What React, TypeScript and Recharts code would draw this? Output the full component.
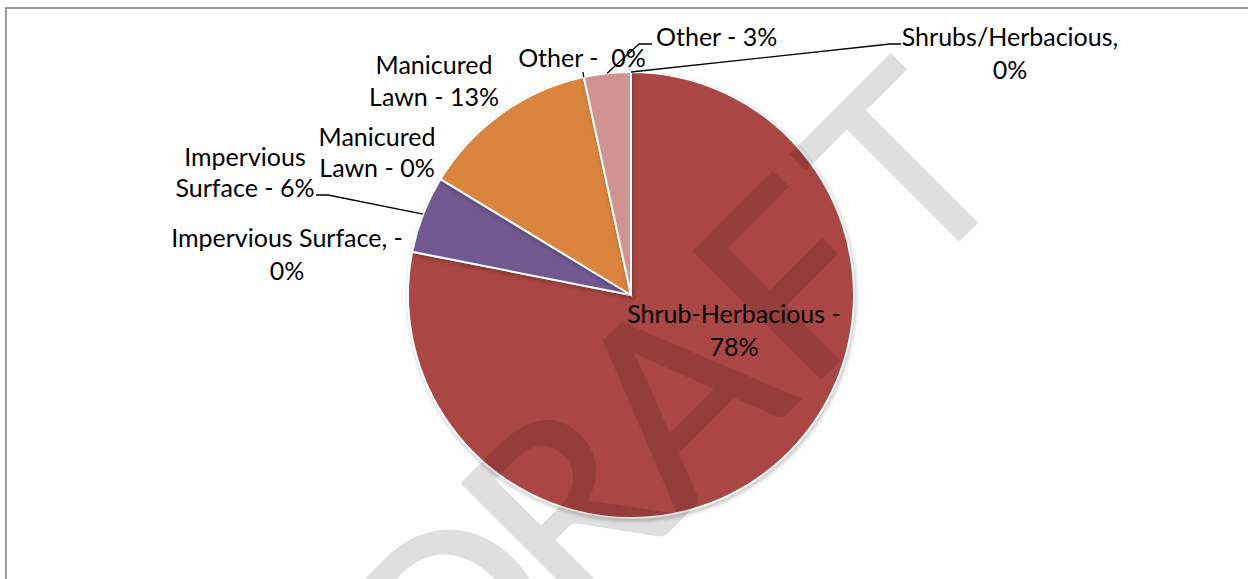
import { PieChart, Pie, Cell } from "recharts";

// land cover shares, in draw order (clockwise from 12 o'clock)
const categories = [
  "Shrub-Herbacious",
  "Impervious Surface",
  "Impervious Surface",
  "Manicured Lawn",
  "Manicured Lawn",
  "Other",
  "Other",
  "Shrubs/Herbacious",
];
const shares = [78.1, 0, 5.6, 0, 12.9, 0, 3.4, 0];
const sliceColors = [
  "#AA4643",
  "#71588F",
  "#71588F",
  "#DB843D",
  "#DB843D",
  "#D19392",
  "#D19392",
  "#4572A7",
];

const watermark = "DRAFT";

const total = shares.reduce((a, b) => a + b, 0);
const rows = categories.map((name, i) => ({ name, value: shares[i] }));

const RAD = Math.PI / 180;
const FONT = "Lato, 'Open Sans', sans-serif";

// label placement relative to the pie centre, like Excel's manual layout
type LabelSpec = {
  x: number;
  ys: number[];
  anchor: "start" | "middle" | "end";
  lines: (n: string, p: string) => string[];
  leader?: [number, number][];
};

const twoWords = (n: string, p: string) => {
  const [a, b] = n.split(" ");
  return [a, `${b} - ${p}`];
};

const labelSpecs: LabelSpec[] = [
  { x: 103, ys: [18, 51], anchor: "middle", lines: (n, p) => [`${n} -`, p] },
  { x: -344, ys: [-58, -25.5], anchor: "middle", lines: (n, p) => [`${n}, -`, p] },
  {
    x: -386,
    ys: [-139, -108],
    anchor: "middle",
    lines: twoWords,
    leader: [
      [-303, -100],
      [-315, -100],
    ],
  },
  { x: -254, ys: [-159, -128], anchor: "middle", lines: twoWords },
  { x: -197, ys: [-231, -199], anchor: "middle", lines: twoWords },
  { x: -49, ys: [-238.5], anchor: "middle", lines: (n, p) => [`${n} -  ${p}`], leader: [[-48, -223]] },
  {
    x: 25,
    ys: [-259.5],
    anchor: "start",
    lines: (n, p) => [`${n} - ${p}`],
    leader: [
      [8, -251],
      [21, -251],
    ],
  },
  {
    x: 379,
    ys: [-259.5, -226.5],
    anchor: "middle",
    lines: (n, p) => [`${n},`, p],
    leader: [
      [259, -251],
      [270, -251],
    ],
  },
];

// watermark letter centres along its baseline, relative to the "A"
const watermarkOffsets = [-315, -158, 0, 163, 322];

function renderLabel(props: any) {
  const { cx, cy, midAngle, outerRadius, index } = props;
  const spec = labelSpecs[index];
  if (!spec) return null;
  const pct = `${Math.round((shares[index] / total) * 100)}%`;
  const text = spec.lines(categories[index], pct);
  const ex = cx + outerRadius * Math.cos(-midAngle * RAD);
  const ey = cy + outerRadius * Math.sin(-midAngle * RAD);
  const pts = spec.leader
    ? [[ex, ey], ...spec.leader.map(([dx, dy]) => [cx + dx, cy + dy])]
    : null;
  return (
    <g key={`lbl-${index}`}>
      {pts && (
        <polyline
          points={pts.map((p) => p.join(",")).join(" ")}
          fill="none"
          stroke="#000"
          strokeWidth={1.3}
        />
      )}
      {text.map((t, i) => (
        <text
          key={i}
          x={cx + spec.x}
          y={cy + spec.ys[i]}
          textAnchor={spec.anchor}
          dominantBaseline="central"
          fontFamily={FONT}
          fontSize={25}
          fill="#000"
          style={{ whiteSpace: "pre" }}
        >
          {t}
        </text>
      ))}
    </g>
  );
}

export default function App() {
  return (
    <div
      style={{
        position: "fixed",
        left: 0,
        top: 0,
        width: 1248,
        height: 579,
        overflow: "hidden",
        background: "#fff",
      }}
    >
      <style>{`.recharts-pie-sector path { filter: drop-shadow(1px 2px 2px rgba(0,0,0,0.25)); }`}</style>
      <div
        style={{
          position: "absolute",
          left: 5,
          top: 7,
          width: 1300,
          height: 620,
          border: "2px solid #9a9a9a",
        }}
      />
      <div style={{ position: "absolute", left: 0, top: 0 }}>
        <PieChart width={1248} height={579} margin={{ top: 0, right: 0, bottom: 0, left: 0 }}>
          <Pie
            data={rows}
            dataKey="value"
            nameKey="name"
            cx={631}
            cy={295}
            outerRadius={223}
            startAngle={90}
            endAngle={-270}
            stroke="#fff"
            strokeWidth={2}
            label={renderLabel}
            labelLine={false}
            isAnimationActive={false}
          >
            {rows.map((_, i) => (
              <Cell key={i} fill={sliceColors[i]} />
            ))}
          </Pie>
        </PieChart>
      </div>
      <svg
        width={1248}
        height={579}
        style={{ position: "absolute", left: 0, top: 0, pointerEvents: "none" }}
      >
        <g opacity={0.12} transform="translate(740,459) rotate(-45)">
          {watermark.split("").map((ch, i) => (
            <text
              key={i}
              x={watermarkOffsets[i]}
              y={0}
              textAnchor="middle"
              fontFamily={FONT}
              fontSize={250}
              fill="#000"
              stroke="#000"
              strokeWidth={3}
            >
              {ch}
            </text>
          ))}
        </g>
      </svg>
    </div>
  );
}
